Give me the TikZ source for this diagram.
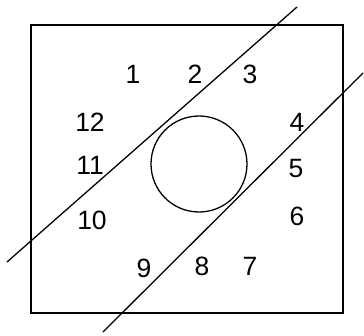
\documentclass[tikz,border=0pt]{standalone}
\usepackage{fontspec}
\setmainfont{Liberation Sans}

\begin{document}
\begin{tikzpicture}[x=0.03cm, y=-0.03cm, line cap=round]

    \useasboundingbox (0,0) rectangle (364,335);

    % Frame
    \draw[line width=1.7pt] (31,25) rectangle (343,313);

    % Disc in the middle
    \draw[line width=1.1pt] (199,164) circle (48);

    % Cutting lines
    \draw[line width=1.1pt] (7,262) -- (297,7);
    \draw[line width=1.1pt] (103,332) -- (363,73);

    % Numbers round the disc
    \foreach \lbl/\px/\py in {1/133/74, 2/195/74, 3/250/74, 4/297/122,
                              5/296/169, 6/297/216, 7/250/266, 8/202/266,
                              9/144/268, 10/92/220, 11/90/165, 12/90/122}
        \node[font=\fontsize{22.6}{27}\selectfont, inner sep=0pt]
            (n\lbl) at (\px,\py) {\lbl};

\end{tikzpicture}
\end{document}
